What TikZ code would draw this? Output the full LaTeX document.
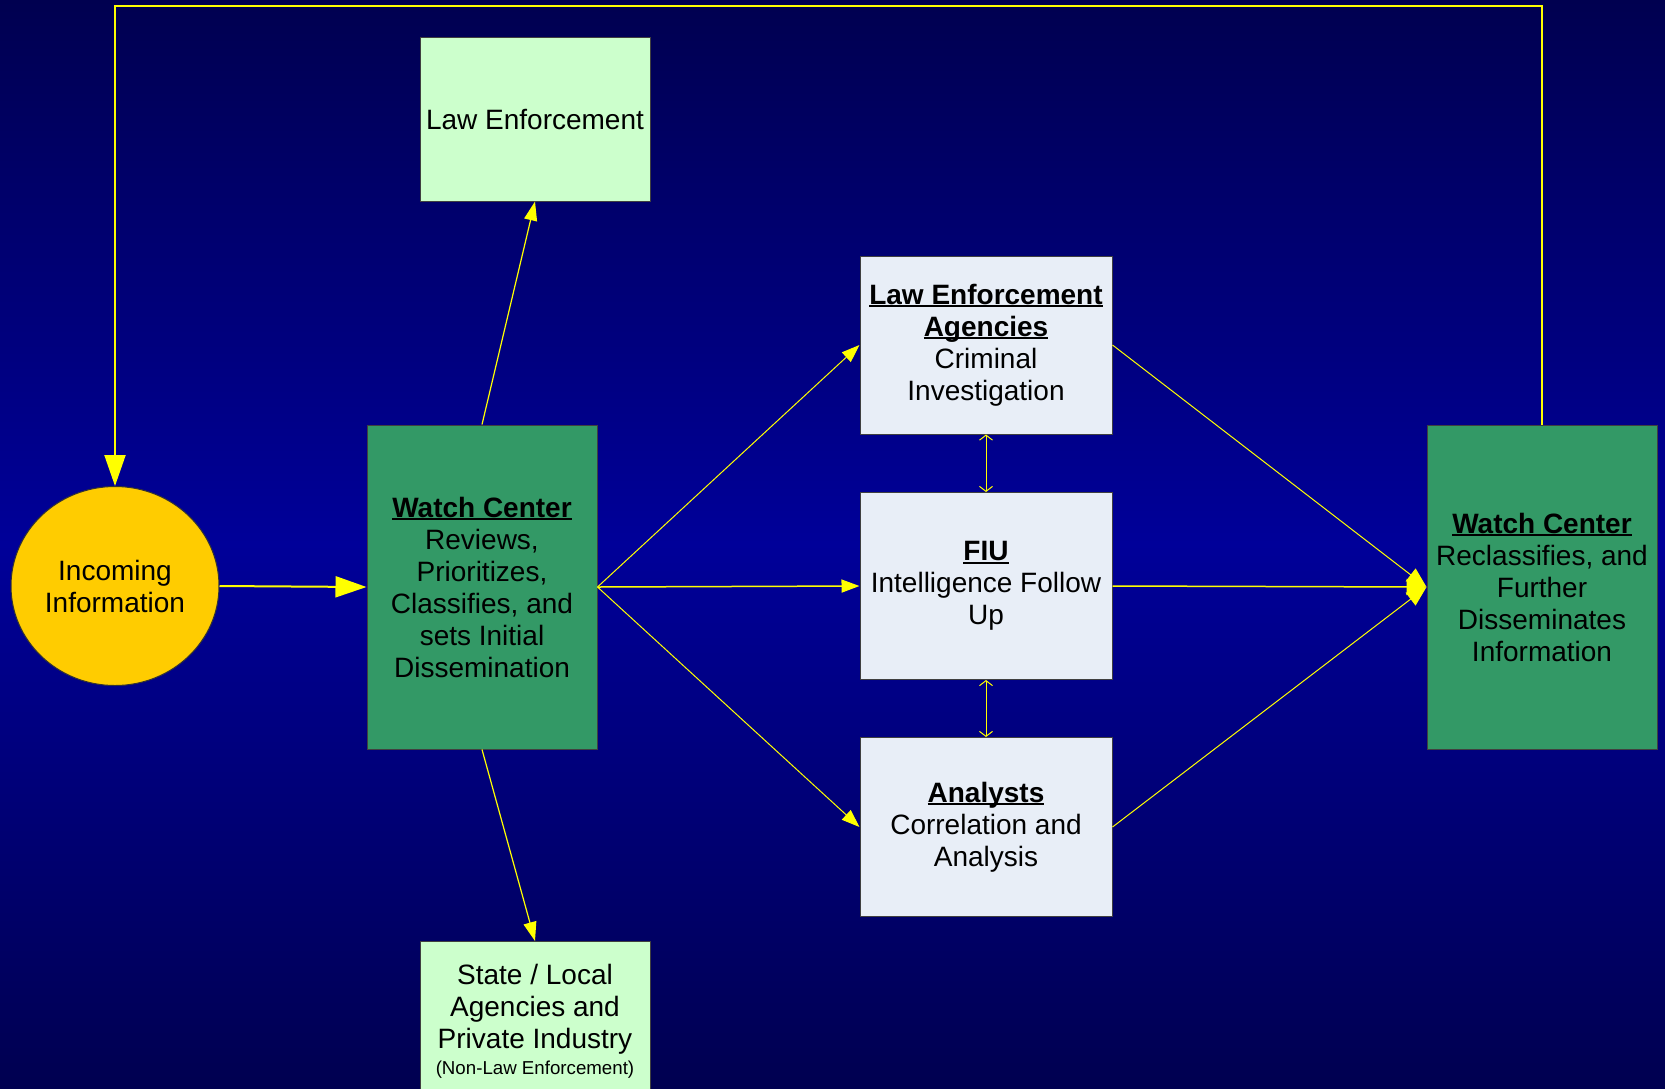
\documentclass[tikz,border=0pt]{standalone}
\usepackage{fontspec}
\setmainfont{Liberation Sans}
\usetikzlibrary{arrows.meta,shapes.geometric}
\definecolor{bgdark}{RGB}{0,0,80}
\definecolor{bgmid}{RGB}{0,0,153}
\definecolor{wcgreen}{RGB}{51,153,102}
\definecolor{palegreen}{RGB}{204,255,204}
\definecolor{paleblue}{RGB}{232,238,247}
\definecolor{sun}{RGB}{255,204,0}
\definecolor{ylw}{RGB}{255,255,0}
\newcommand\ulhead[1]{\setbox0\hbox{\bfseries #1}\rlap{\rule[-3.2pt]{\wd0}{2pt}}\box0}
\begin{document}
\begin{tikzpicture}[x=1pt,y=-1pt,
  txt/.style={font=\fontsize{28}{32}\selectfont, align=center, text=black},
  box/.style={txt, rectangle, draw=black!75, line width=1pt, inner sep=0pt},
  wcbox/.style={box, fill=wcgreen, minimum width=230pt, minimum height=324pt},
  bluebox/.style={box, fill=paleblue, minimum width=252pt},
  greenbox/.style={box, fill=palegreen, minimum width=230pt},
  circ/.style={txt, ellipse, fill=sun, draw=black!80, line width=1pt, inner sep=0pt, minimum width=208pt, minimum height=199pt},
  bigarrow/.style={draw=ylw, line width=2pt, -{Triangle[length=31pt,width=21pt]}},
  midarrow/.style={draw=ylw, line width=1.2pt, -{Triangle[length=19pt,width=13pt]}},
  thinarrow/.style={draw=ylw, line width=1pt, -{Triangle[length=18pt,width=13pt]}},
  fanin/.style={draw=ylw, line width=1pt, -{Triangle[length=20pt,width=16pt]}},
  twoway/.style={draw=ylw, line width=1pt, {Straight Barb[length=5pt,width=13pt]}-{Straight Barb[length=5pt,width=13pt]}}
]
\useasboundingbox (0,0) rectangle (1665,1088);
\shade[top color=bgdark, bottom color=bgdark, middle color=bgmid] (0,0) rectangle (1665,1088);

% nodes
\node[circ] (inc) at (115,586) {Incoming\\Information};
\node[wcbox] (wc1) at (482,587) {\ulhead{Watch Center}\\Reviews,\\Prioritizes,\\Classifies, and\\sets Initial\\Dissemination};
\node[wcbox] (wc2) at (1542,587) {\ulhead{Watch Center}\\Reclassifies, and\\Further\\Disseminates\\Information};
\node[greenbox, minimum height=164pt] (le) at (535,119) {Law Enforcement};
\node[greenbox, minimum height=170pt, anchor=north] (st) at (535,941) {};
\node[txt] (sttext) at (535,1021) {State / Local\\Agencies and\\Private Industry\\[-6pt]{\fontsize{18.7}{22}\selectfont (Non-Law Enforcement)}};
\node[bluebox, minimum height=178pt] (lea) at (986,345) {\ulhead{Law Enforcement}\\\ulhead{Agencies}\\Criminal\\Investigation};
\node[bluebox, minimum height=187pt] (fiu) at (986,586) {\ulhead{FIU}\\Intelligence Follow\\Up};
\node[bluebox, minimum height=179pt] (ana) at (986,827) {\ulhead{Analysts}\\Correlation and\\Analysis};
\coordinate (tl) at (115,6);

% connectors
\draw[bigarrow] (inc.east) -- (wc1.west);
\draw[bigarrow] (wc2.north) |- (tl) -- (inc.north);
\draw[midarrow] (wc1.north) -- (le.south);
\draw[midarrow] (wc1.south) -- (st.north);
\draw[thinarrow] (wc1.east) -- (lea.west);
\draw[thinarrow, line width=1.5pt] (wc1.east) -- (fiu.west);
\draw[thinarrow] (wc1.east) -- (ana.west);
\draw[fanin] (lea.east) -- (wc2.west);
\draw[fanin, line width=1.5pt] (fiu.east) -- (wc2.west);
\draw[fanin] (ana.east) -- (wc2.west);
\draw[twoway] (lea.south) -- (fiu.north);
\draw[twoway] (fiu.south) -- (ana.north);
\end{tikzpicture}
\end{document}
